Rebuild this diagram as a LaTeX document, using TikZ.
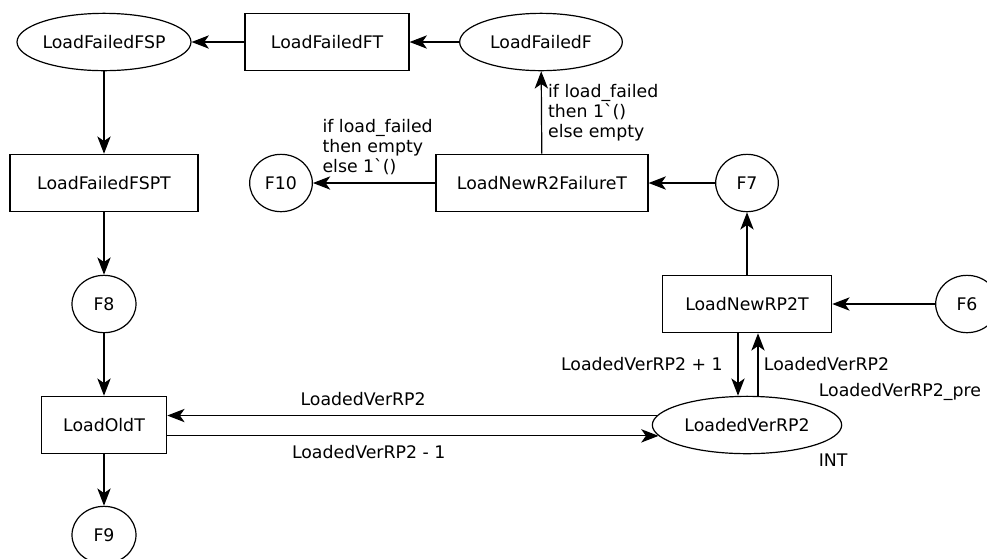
\documentclass[tikz,border=0pt]{standalone}
\usepackage{fontspec}
\setmainfont{DejaVu Sans}
\usetikzlibrary{arrows.meta,calc,shapes.geometric}

\begin{document}
\begin{tikzpicture}[x=0.75pt,y=-0.75pt,line width=0.9pt,
    font=\fontsize{13}{15}\selectfont,
    >={Stealth[length=13pt,width=10pt,inset=3.5pt]},
    place/.style={draw,ellipse,inner sep=0pt,minimum height=43pt},
    trans/.style={draw,rectangle,inner sep=0pt,minimum height=43pt},
    lbl/.style={inner sep=0pt,align=left}]
  \useasboundingbox (0,0) rectangle (987,558);
  % top row
  \node[place,minimum width=130pt] (FSP) at (104,42) {LoadFailedFSP};
  \node[trans,minimum width=123pt] (FT) at (327,42) {LoadFailedFT};
  \node[place,minimum width=122pt] (F) at (541,42) {LoadFailedF};
  % second row
  \node[trans,minimum width=141pt] (FSPT) at (104,183) {LoadFailedFSPT};
  \node[place,minimum width=47pt] (F10) at (281,183) {F10};
  \node[trans,minimum width=159pt] (R2F) at (542,183) {LoadNewR2FailureT};
  \node[place,minimum width=47pt] (F7) at (747,183) {F7};
  % third row
  \node[place,minimum width=48pt] (F8) at (104,304) {F8};
  \node[trans,minimum width=127pt] (RP2T) at (747,304) {LoadNewRP2T};
  \node[place,minimum width=47pt] (F6) at (967,304) {F6};
  % bottom row
  \node[trans,minimum width=94pt] (OldT) at (104,425) {LoadOldT};
  \node[place,minimum width=142pt] (Ver) at (747,425) {LoadedVerRP2};
  \node[place,minimum width=48pt] (F9) at (104,535) {F9};
  \node[lbl,anchor=west] (pre) at ($(Ver.east)+(-24,-33)$) {LoadedVerRP2\_pre};
  \node[lbl,anchor=west] (ty) at ($(Ver.east)+(-24,35)$) {INT};
  % failure chain
  \draw[->] (FT) -- (FSP);
  \draw[->] (F) -- (FT);
  \draw[->] (FSP) -- (FSPT);
  \draw[->] (FSPT) -- (F8);
  \draw[->] (F8) -- (OldT);
  \draw[->] (OldT) -- (F9);
  \draw[->] (F7) -- (R2F);
  \draw[->] (F6) -- (RP2T);
  \draw[->] (RP2T) -- (F7);
  \draw[->] (R2F) -- node[lbl,right=4.5pt] {if load\_failed\\then 1\textasciigrave()\\else empty} (F);
  \draw[->] (R2F) -- (F10);
  \node[lbl,anchor=south west] (elab) at ($(F10.east)+(9,-8)$) {if load\_failed\\then empty\\else 1\textasciigrave()};
  % version counter
  \draw[->] ($(RP2T.south)+(-9,0)$) -- node[lbl,left=11pt] {LoadedVerRP2 + 1} ($(Ver.north)+(-9,0)$);
  \draw[->] ($(Ver.north)+(11,0)$) -- node[lbl,right=4pt] {LoadedVerRP2} ($(RP2T.south)+(11,0)$);
  \draw[->] (Ver.174) -- node[lbl,above=6.75pt,pos=0.6] {LoadedVerRP2} (Ver.174 -| OldT.east);
  \draw[->] (OldT.east |- Ver.187) -- node[lbl,below=6.75pt,pos=0.41] {LoadedVerRP2 - 1} (Ver.187);
\end{tikzpicture}
\end{document}
